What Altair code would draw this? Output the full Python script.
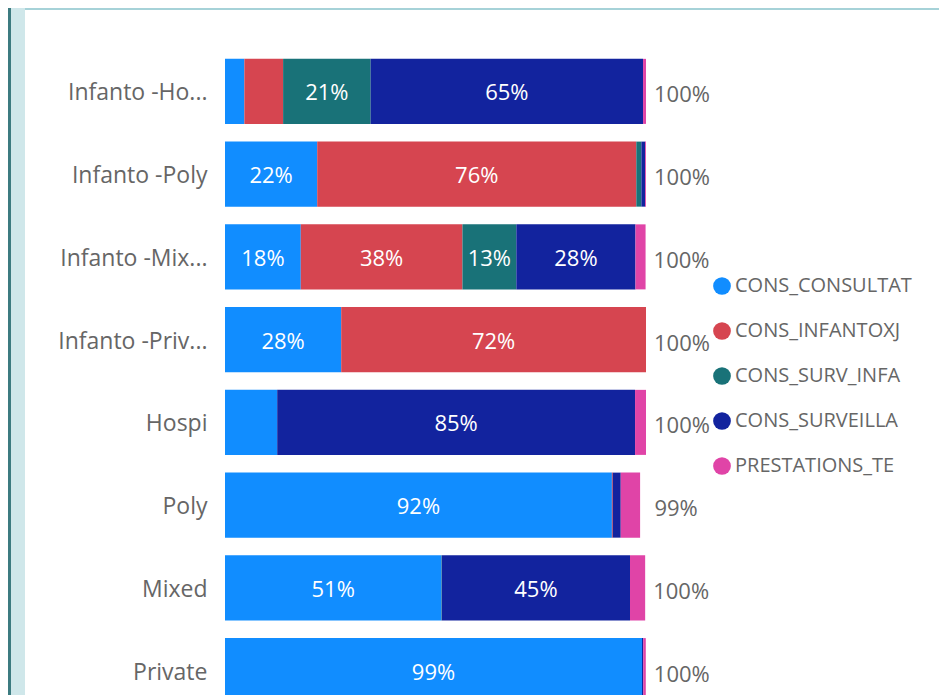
import altair as alt
import pandas as pd

FONT = "Open Sans"

categories = ["Infanto -Ho...", "Infanto -Poly", "Infanto -Mix...", "Infanto -Priv...",
              "Hospi", "Poly", "Mixed", "Private"]
series = ["CONS_CONSULTAT", "CONS_INFANTOXJ", "CONS_SURV_INFA", "CONS_SURVEILLA", "PRESTATIONS_TE"]
colors = ["#118DFF", "#D64550", "#197278", "#12239E", "#E044A7"]

cons_consultat = [0.046, 0.219, 0.180, 0.276, 0.124, 0.919, 0.514, 0.9905]
cons_infantoxj = [0.092, 0.758, 0.384, 0.724, 0.000, 0.002, 0.000, 0.000]
cons_surv_infa = [0.208, 0.012, 0.128, 0.000, 0.000, 0.000, 0.001, 0.000]
cons_surveilla = [0.647, 0.009, 0.283, 0.000, 0.850, 0.019, 0.447, 0.003]
prestations_te = [0.007, 0.002, 0.024, 0.000, 0.026, 0.046, 0.036, 0.006]

series_values = [cons_consultat, cons_infantoxj, cons_surv_infa, cons_surveilla, prestations_te]

rows = []
for si, (s, vals) in enumerate(zip(series, series_values)):
    for c, v in zip(categories, vals):
        rows.append({"category": c, "series": s, "order": si, "value": v})
df = pd.DataFrame(rows)

W, H_VIEW, H_RANGE = 421, 645, 662
PAD_L, PAD_T = 217, 42

y_enc = alt.Y(
    "category:N", sort=categories,
    scale=alt.Scale(paddingInner=0.214, paddingOuter=0.107, range=[0, H_RANGE]),
    axis=alt.Axis(title=None, domain=False, ticks=False, grid=False, labelPadding=18,
                  labelFontSize=23, labelColor="#666666", labelFont=FONT, labelLimit=300,
                  labelOffset=2),
)
x_scale = alt.Scale(domain=[0, 1], nice=False, zero=True)

base = alt.Chart(df)

bars = base.mark_bar().encode(
    y=y_enc,
    x=alt.X("value:Q", stack="zero", scale=x_scale, axis=None),
    color=alt.Color(
        "series:N",
        scale=alt.Scale(domain=series, range=colors),
        legend=alt.Legend(
            title=None, orient="none", legendX=487, legendY=226,
            symbolType="circle", symbolSize=314, symbolStrokeWidth=0, symbolOpacity=1,
            labelFontSize=20, labelColor="#666666", labelFont=FONT, labelLimit=300,
            rowPadding=25, labelOffset=3, padding=0,
        ),
    ),
    order=alt.Order("order:Q", sort="ascending"),
)

inner = base.transform_stack(
    stack="value", groupby=["category"], as_=["x0", "x1"],
    sort=[alt.SortField("order", order="ascending")],
).transform_filter(
    "datum.value >= 0.125"
).transform_calculate(
    mid="(datum.x0 + datum.x1) / 2"
).mark_text(color="white", fontSize=22, font=FONT, baseline="middle", align="center", dy=2).encode(
    y=alt.Y("category:N", sort=categories),
    x=alt.X("mid:Q", scale=x_scale, axis=None),
    text=alt.Text("value:Q", format=".0%"),
)

totals = base.mark_text(color="#666666", fontSize=22, font=FONT, baseline="middle",
                        align="center", dx=36, dy=4).encode(
    y=alt.Y("category:N", sort=categories),
    x=alt.X("sum(value):Q", scale=x_scale, axis=None),
    text=alt.Text("sum(value):Q", format=".0%"),
)

deco = pd.DataFrame({"k": [0]})
left_strip = alt.Chart(deco).mark_rect(color="#CFE7EA").encode(
    x=alt.value(-PAD_L), x2=alt.value(-200), y=alt.value(-PAD_T), y2=alt.value(H_RANGE + 60))
dark_stripe = alt.Chart(deco).mark_rect(color="#3C7B80").encode(
    x=alt.value(-PAD_L), x2=alt.value(-214), y=alt.value(-PAD_T), y2=alt.value(H_RANGE + 60))
top_band = alt.Chart(deco).mark_rect(color="#A6D2D8").encode(
    x=alt.value(-200), x2=alt.value(720), y=alt.value(-PAD_T), y2=alt.value(-40))

chart = alt.layer(left_strip, dark_stripe, top_band, bars, inner, totals).properties(
    width=W, height=H_VIEW,
    background="white",
    autosize=alt.AutoSizeParams(type="none"),
    padding={"left": PAD_L, "top": PAD_T, "right": 293, "bottom": 0},
).configure_view(stroke="transparent", strokeWidth=0)

chart.save("out.html", embed_options={"renderer": "svg", "actions": False})
